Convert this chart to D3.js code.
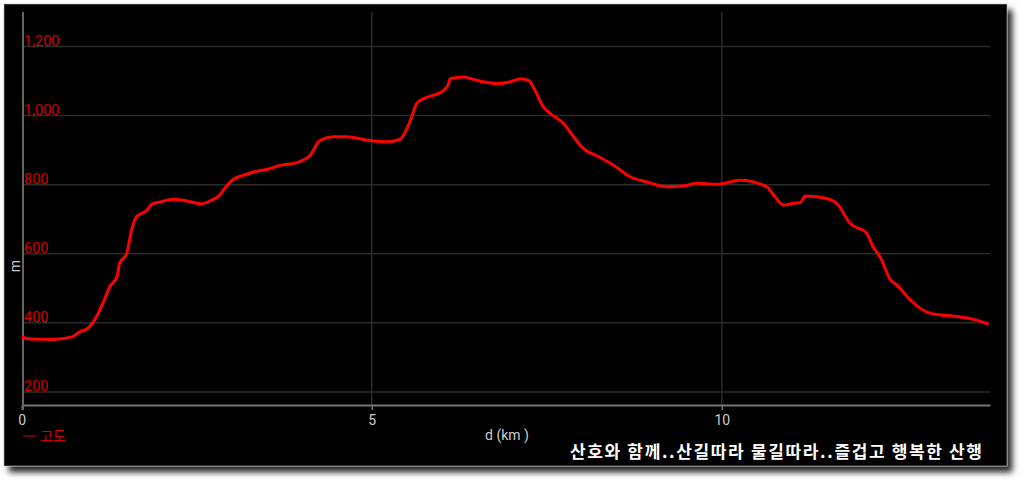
<!DOCTYPE html>
<html>
<head>
<meta charset="utf-8">
<script src="https://cdn.jsdelivr.net/npm/d3@7"></script>
<style>
  body { margin: 0; background: #fff; }
  svg { display: block; }
</style>
</head>
<body>
<svg id="chart"></svg>
<script>
// distance (km) and altitude (m)
var dist = [0.00, 0.12, 0.45, 0.73, 0.83, 0.93, 1.07, 1.16, 1.26, 1.36, 1.40, 1.50, 1.57, 1.64, 1.79, 1.86, 1.98,
    2.16, 2.36, 2.57, 2.69, 2.83, 2.88, 3.02, 3.16, 3.38, 3.50, 3.69, 3.93, 4.12, 4.24, 4.30, 4.45, 4.64, 4.93,
    5.21, 5.40, 5.48, 5.57, 5.64, 5.74, 5.88, 6.00, 6.09, 6.12, 6.31, 6.45, 6.59, 6.79, 6.98, 7.12, 7.24, 7.33,
    7.45, 7.55, 7.74, 7.88, 8.02, 8.24, 8.45, 8.69, 8.93, 9.21, 9.45, 9.64, 9.93, 10.26, 10.64, 10.76, 10.88,
    11.02, 11.12, 11.19, 11.45, 11.64, 11.83, 12.07, 12.16, 12.26, 12.41, 12.50, 12.69, 12.97, 13.36, 13.60, 13.81]
var alt = [359, 353, 352, 360, 374, 382, 418, 457, 505, 533, 573, 601, 669, 707, 726, 744, 750,
    758, 753, 744, 753, 770, 784, 815, 827, 840, 844, 856, 864, 885, 924, 932, 939, 939, 929,
    924, 931, 953, 996, 1035, 1049, 1059, 1069, 1088, 1107, 1112, 1105, 1098, 1093, 1098, 1107, 1102, 1074,
    1025, 1006, 977, 939, 905, 881, 857, 823, 808, 794, 796, 804, 801, 813, 794, 765, 741,
    746, 748, 767, 762, 746, 688, 659, 620, 591, 524, 510, 466, 428, 418, 410, 396]

var yTicks = [200, 400, 600, 800, 1000, 1200]
var xTicks = [0, 5, 10]
var seriesName = '고도'
var caption = '산호와 함께..산길따라 물길따라..즐겁고 행복한 산행'

var width = 1024,
    height = 484

var svg = d3.select('#chart')
    .attr('width', width)
    .attr('height', height)

// drop shadow for the dark panel
var defs = svg.append('defs')
var f = defs.append('filter').attr('id', 'shadow')
    .attr('x', '-5%').attr('y', '-5%').attr('width', '115%').attr('height', '115%')
f.append('feDropShadow')
    .attr('dx', 5).attr('dy', 6)
    .attr('stdDeviation', 3)
    .attr('flood-color', '#000')
    .attr('flood-opacity', 0.85)

svg.append('rect')
    .attr('x', 4).attr('y', 4)
    .attr('width', 1003).attr('height', 462)
    .attr('fill', '#000')
    .attr('stroke', '#bbb')
    .attr('stroke-width', 0.6)
    .attr('filter', 'url(#shadow)')

var x = d3.scaleLinear()
    .domain([0, 13.83])
    .range([21.7, 990])

var y = d3.scaleLinear()
    .domain([162, 1300])
    .range([405, 12])

var data = dist.map(function (d, i) {
    return {d: d, v: alt[i]}
})

// horizontal grid + red labels inside the plot
var gy = svg.append('g')
gy.selectAll('line')
    .data(yTicks)
    .enter()
    .append('line')
    .attr('x1', x(0)).attr('x2', x(13.83))
    .attr('y1', d => y(d)).attr('y2', d => y(d))
    .attr('stroke', '#2b2b2b')
    .attr('stroke-width', 1.5)

gy.selectAll('text')
    .data(yTicks)
    .enter()
    .append('text')
    .attr('x', 24)
    .attr('y', d => y(d) - 1)
    .attr('fill', '#d40000')
    .style('font-family', 'Roboto, sans-serif')
    .style('font-size', '14.5px')
    .text(d => d3.format(',')(d))

// vertical grid
svg.append('g')
    .selectAll('line')
    .data(xTicks.filter(d => d > 0))
    .enter()
    .append('line')
    .attr('x1', d => x(d)).attr('x2', d => x(d))
    .attr('y1', 12).attr('y2', 405)
    .attr('stroke', '#2b2b2b')
    .attr('stroke-width', 1.5)

// x axis
var xAxis = d3.axisBottom(x)
    .tickValues(xTicks)
    .tickSize(5)
    .tickSizeOuter(0)
    .tickPadding(5)

var gx = svg.append('g')
    .attr('transform', 'translate(0,405)')
    .call(xAxis)
gx.select('.domain').attr('stroke', '#777').attr('stroke-width', 2)
gx.selectAll('.tick line').attr('stroke', '#777').attr('stroke-width', 1.5)
gx.selectAll('.tick text')
    .attr('fill', '#ccc')
    .style('font-family', 'Roboto, sans-serif')
    .style('font-size', '14px')

// y axis line
svg.append('line')
    .attr('x1', 23).attr('x2', 23)
    .attr('y1', 12).attr('y2', 410)
    .attr('stroke', '#666')
    .attr('stroke-width', 2)

// profile line
var line = d3.line()
    .x(d => x(d.d))
    .y(d => y(d.v))
    .curve(d3.curveMonotoneX)

svg.append('path')
    .datum(data)
    .attr('d', line)
    .attr('fill', 'none')
    .attr('stroke', '#ff0000')
    .attr('stroke-width', 3)
    .attr('stroke-linejoin', 'round')

// axis titles
svg.append('text')
    .attr('transform', 'translate(20,266) rotate(-90)')
    .attr('text-anchor', 'middle')
    .attr('fill', '#ccc')
    .style('font-family', 'Roboto, sans-serif')
    .style('font-size', '14px')
    .text('m')

svg.append('text')
    .attr('x', 507).attr('y', 440)
    .attr('text-anchor', 'middle')
    .attr('fill', '#ccc')
    .style('font-family', 'Roboto, sans-serif')
    .style('font-size', '14px')
    .text('d (km )')

// legend
svg.append('line')
    .attr('x1', 23).attr('x2', 36)
    .attr('y1', 436).attr('y2', 436)
    .attr('stroke', '#d40000')
    .attr('stroke-width', 1)
svg.append('text')
    .attr('x', 40).attr('y', 441)
    .attr('fill', '#d40000')
    .style('font-family', '"Noto Sans CJK KR", sans-serif')
    .style('font-size', '14px')
    .text(seriesName)

// caption
svg.append('text')
    .attr('x', 570).attr('y', 458)
    .attr('fill', '#fff')
    .attr('textLength', 412)
    .attr('lengthAdjust', 'spacing')
    .style('font-family', '"Noto Sans CJK KR", sans-serif')
    .style('font-weight', 'bold')
    .style('font-size', '17px')
    .text(caption)
</script>
</body>
</html>
